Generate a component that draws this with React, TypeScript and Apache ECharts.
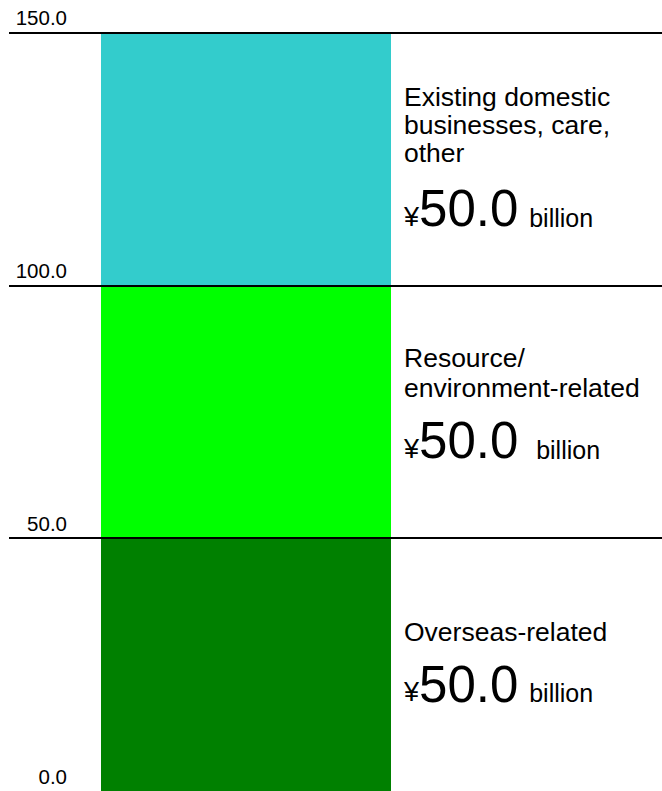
import React, { useEffect, useRef } from "react";
import * as echarts from "echarts";

const categories = ["Total"];
const overseasValues = [50.0];
const resourceValues = [50.0];
const existingValues = [50.0];
const seriesNames = [
  "Overseas-related",
  "Resource/\nenvironment-related",
  "Existing domestic\nbusinesses, care,\nother",
];
const yMin = 0;
const yMax = 150;
const yInterval = 50;

const FONT = "'Liberation Sans', Arial, Helvetica, sans-serif";

function makeLabel(name: string, textLH: number, valueLH: number, gap: string, offsetY: number) {
  return {
    show: true,
    position: "right",
    distance: 13,
    offset: [0, offsetY],
    align: "left",
    fontFamily: FONT,
    color: "#000",
    formatter: (p: any) =>
      `{t|${name}}\n{y|¥}{v|${Number(p.value).toFixed(1)}}{b|${gap}billion}`,
    rich: {
      t: { fontSize: 26.5, lineHeight: textLH, fontFamily: FONT, color: "#000" },
      y: { fontSize: 27, lineHeight: 30, verticalAlign: "bottom", padding: [0, 0, 4, 0], fontFamily: FONT, color: "#000" },
      v: { fontSize: 51, lineHeight: valueLH, verticalAlign: "bottom", fontFamily: FONT, color: "#000" },
      b: { fontSize: 25, lineHeight: 30, verticalAlign: "bottom", padding: [0, 0, 4, 4], fontFamily: FONT, color: "#000" },
    },
  };
}

export default function App() {
  const ref = useRef<HTMLDivElement>(null);
  useEffect(() => {
    if (!ref.current) return;
    const chart = echarts.init(ref.current, null, { renderer: "svg" });
    chart.setOption({
      animation: false,
      backgroundColor: "#ffffff",
      textStyle: { fontFamily: FONT },
      grid: [
        { left: 101, width: 290, top: 32.5, bottom: 0 },
        { left: 9, right: 0, top: 32.5, bottom: 0 },
      ],
      xAxis: [
        { type: "category", gridIndex: 0, data: categories, show: false, boundaryGap: true },
        { type: "category", gridIndex: 1, data: categories, show: false },
      ],
      yAxis: [
        {
          type: "value",
          gridIndex: 0,
          min: yMin,
          max: yMax,
          interval: yInterval,
          show: false,
          splitLine: { show: false },
        },
        {
          type: "value",
          gridIndex: 1,
          min: yMin,
          max: yMax,
          interval: yInterval,
          z: 10,
          axisLine: { show: false },
          axisTick: { show: false },
          splitLine: {
            show: true,
            showMinLine: false,
            lineStyle: { color: "#000000", width: 2 },
          },
          axisLabel: {
            show: true,
            margin: -58,
            align: "right",
            verticalAlign: "bottom",
            lineHeight: 20,
            padding: [0, 0, 5, 0],
            fontSize: 20.5,
            color: "#000",
            fontFamily: FONT,
            formatter: (v: number) => v.toFixed(1),
          },
        },
      ],
      series: [
        {
          type: "bar",
          name: "Overseas-related",
          stack: "total",
          xAxisIndex: 0,
          yAxisIndex: 0,
          barWidth: "100%",
          data: overseasValues,
          itemStyle: { color: "#008000" },
          label: makeLabel(seriesNames[0], 30, 63, " ", -1.5),
        },
        {
          type: "bar",
          name: "Resource/environment-related",
          stack: "total",
          xAxisIndex: 0,
          yAxisIndex: 0,
          barWidth: "100%",
          data: resourceValues,
          itemStyle: { color: "#00FF00" },
          label: makeLabel(seriesNames[1], 30, 63, "  ", -7),
        },
        {
          type: "bar",
          name: "Existing domestic businesses, care, other",
          stack: "total",
          xAxisIndex: 0,
          yAxisIndex: 0,
          barWidth: "100%",
          data: existingValues,
          itemStyle: { color: "#33CCCC" },
          label: makeLabel(seriesNames[2], 28, 67, " ", 0),
        },
      ],
    });
    return () => chart.dispose();
  }, []);
  return (
    <div
      ref={ref}
      style={{ position: "fixed", left: 0, top: 0, width: 662, height: 791 }}
    />
  );
}
